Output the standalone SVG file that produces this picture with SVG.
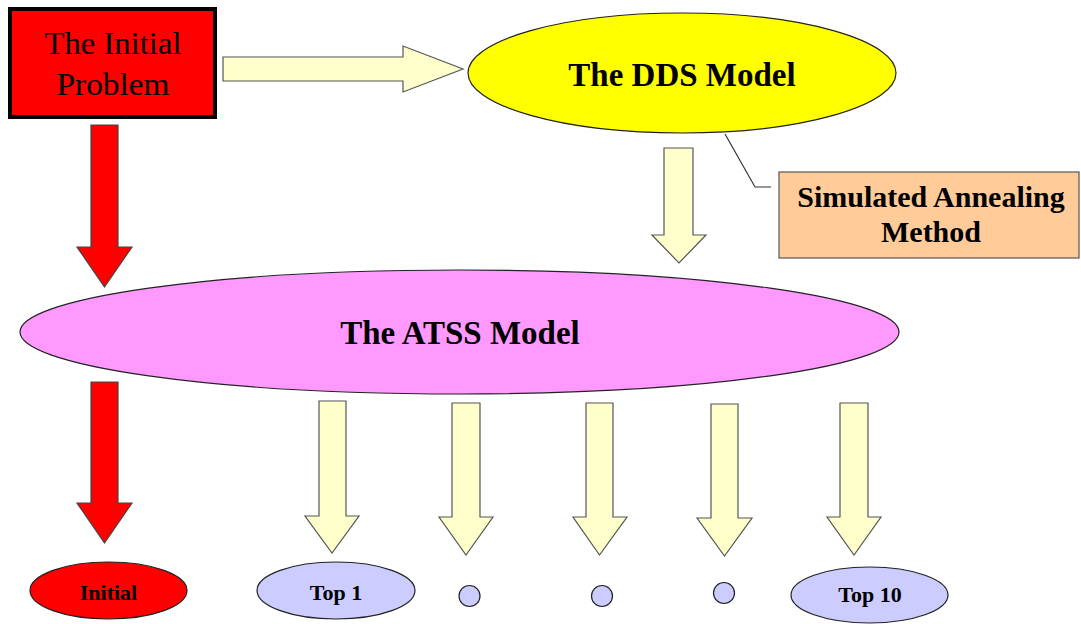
<svg xmlns="http://www.w3.org/2000/svg" width="1081" height="624" viewBox="0 0 1081 624">
  <style>
    .arrow-y { fill: #FFFFCC; stroke: #555555; stroke-width: 1.2; stroke-linejoin: miter; }
    .arrow-r { fill: #FF0000; stroke: #444444; stroke-width: 1.2; }
    .oval { stroke: #222222; stroke-width: 1.2; }
    .t { font-family: "Liberation Serif", "DejaVu Serif", "Times New Roman", serif; fill: #000000; text-anchor: middle; }
    .r { font-weight: normal; font-style: normal; }
    .b { font-weight: bold; }
  </style>
  <rect width="1081" height="624" fill="#FFFFFF"/>

  <!-- connectors -->
  <g id="connectors">
    <polygon class="arrow-y" points="223,57 403,57 403,46 463,69 403,92 403,81 223,81"/>
    <polygon class="arrow-r" points="91,125 118,125 118,247 132,247 104.5,287 77,247 91,247"/>
    <polygon class="arrow-y" points="664,148 693,148 693,235 706,235 679,263 652,235 664,235"/>
    <polyline points="725,134 755,187 771,187" fill="none" stroke="#333333" stroke-width="1.2"/>
    <polygon class="arrow-r" points="91,382 118,382 118,503 132,503 104.5,543 77,503 91,503"/>
    <polygon class="arrow-y" points="319,401 346,401 346,516 359,516 332,553 305,516 319,516"/>
    <polygon class="arrow-y" points="452,403 480,403 480,517 493,517 466,555 439,517 452,517"/>
    <polygon class="arrow-y" points="586,403 613,403 613,517 627,517 599.5,555 573,517 586,517"/>
    <polygon class="arrow-y" points="711,404 738,404 738,518 752,518 724.5,556 697,518 711,518"/>
    <polygon class="arrow-y" points="840,403 868,403 868,517 881,517 854,555 827,517 840,517"/>
  </g>

  <g id="initial-problem">
    <rect x="10" y="9" width="205" height="108" fill="#FF0000" stroke="#000000" stroke-width="4"/>
    <text class="t r" x="113" y="54" font-size="32" textLength="137" lengthAdjust="spacingAndGlyphs">The Initial</text>
    <text class="t r" x="113" y="95" font-size="32" textLength="113" lengthAdjust="spacingAndGlyphs">Problem</text>
  </g>

  <g id="dds-model">
    <ellipse class="oval" cx="682" cy="73" rx="214" ry="60" fill="#FFFF00"/>
    <text class="t b" x="682" y="86" font-size="33">The DDS Model</text>
  </g>

  <g id="simulated-annealing">
    <rect x="779" y="172" width="300" height="86" fill="#FFCC99" stroke="#555555" stroke-width="1.2"/>
    <text class="t b" x="931" y="207" font-size="30">Simulated Annealing</text>
    <text class="t b" x="931" y="242" font-size="30">Method</text>
  </g>

  <g id="atss-model">
    <ellipse class="oval" cx="459.5" cy="332" rx="439.5" ry="62" fill="#FF99FF"/>
    <text class="t b" x="460" y="344" font-size="33">The ATSS Model</text>
  </g>

  <g id="initial">
    <ellipse class="oval" cx="108.5" cy="590.5" rx="78.5" ry="28.5" fill="#FF0000"/>
    <text class="t b" x="108.5" y="600" font-size="22">Initial</text>
  </g>

  <g id="top-1">
    <ellipse class="oval" cx="336" cy="590.5" rx="79" ry="28.5" fill="#CCCCFF"/>
    <text class="t b" x="336" y="600" font-size="22">Top 1</text>
  </g>

  <g id="dot-1">
    <circle class="oval" cx="469.5" cy="596" r="10.5" fill="#CCCCFF"/>
  </g>
  <g id="dot-2">
    <circle class="oval" cx="602" cy="596" r="10.5" fill="#CCCCFF"/>
  </g>
  <g id="dot-3">
    <circle class="oval" cx="724" cy="593" r="10.5" fill="#CCCCFF"/>
  </g>

  <g id="top-10">
    <ellipse class="oval" cx="869.5" cy="595" rx="78.5" ry="28" fill="#CCCCFF"/>
    <text class="t b" x="870" y="602" font-size="22">Top 10</text>
  </g>
</svg>
